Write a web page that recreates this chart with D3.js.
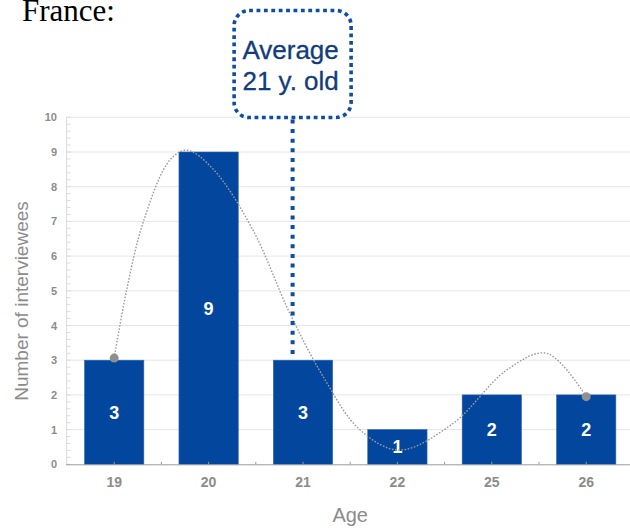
<!DOCTYPE html>
<html>
<head>
<meta charset="utf-8">
<script src="https://cdn.jsdelivr.net/npm/d3@7"></script>
<style>
  html, body { margin: 0; padding: 0; background: #fff; }
  svg { display: block; }
</style>
</head>
<body>
<svg id="chart" width="630" height="532"></svg>
<script>
// Age distribution of interviewees (France)
const ages = ["19", "20", "21", "22", "25", "26"];
const counts = [3, 9, 3, 1, 2, 2];
const yTicks = [0, 1, 2, 3, 4, 5, 6, 7, 8, 9, 10];

// Smoothed trend curve: positions in category units (0 = first age) and values
const trendPos = [0, 0.13, 0.31, 0.59, 0.77, 1.05, 1.47, 1.86, 2.23, 2.6, 3.02, 3.59, 4.16, 4.58, 5];
const trendVal = [3.06, 5.0, 7.0, 8.77, 9.05, 8.5, 6.75, 4.35, 2.45, 1.0, 0.41, 1.18, 2.72, 3.2, 1.95];

// Average marker position (category units) and label
const averagePos = 1.89;
const averageLines = ["Average", "21 y. old"];

const svg = d3.select("#chart");
const plotLeft = 67, plotRight = 633.4, plotTop = 117.3, plotBottom = 464.3;

const x = d3.scaleBand().domain(ages).range([plotLeft, plotRight]).paddingInner(0.372).paddingOuter(0.186);
const xc = d3.scaleLinear().domain([0, ages.length - 1])
  .range([x(ages[0]) + x.bandwidth() / 2, x(ages[ages.length - 1]) + x.bandwidth() / 2]);
const y = d3.scaleLinear().domain([0, 10]).range([plotBottom, plotTop]);

// Title
svg.append("text").attr("x", 22).attr("y", 21)
  .attr("font-family", "Liberation Serif, Times New Roman, serif")
  .attr("font-size", 31).attr("fill", "#000").text("France:");

// Horizontal grid lines
svg.append("g").selectAll("line").data(yTicks.filter(d => d > 0)).join("line")
  .attr("x1", plotLeft).attr("x2", 630)
  .attr("y1", d => y(d)).attr("y2", d => y(d))
  .attr("stroke", "#e6e6e6").attr("stroke-width", 1);

// Left axis line with minor ticks
svg.append("line").attr("x1", plotLeft - 0.5).attr("x2", plotLeft - 0.5)
  .attr("y1", plotTop).attr("y2", plotBottom).attr("stroke", "#dcdcdc");
svg.append("g").selectAll("line").data(d3.range(0, 10.001, 0.2)).join("line")
  .attr("x1", plotLeft - 0.5).attr("x2", plotLeft + 3.5)
  .attr("y1", d => y(d)).attr("y2", d => y(d))
  .attr("stroke", "#dcdcdc");

// Y axis labels
const yAxis = svg.append("g").attr("transform", `translate(${plotLeft},0)`)
  .call(d3.axisLeft(y).tickValues(yTicks).tickSize(0).tickPadding(10));
yAxis.select(".domain").remove();
yAxis.selectAll("text").attr("font-family", "Liberation Sans, Arial, sans-serif")
  .attr("font-size", 11).attr("font-weight", "bold").attr("fill", "#8c8c8c");

// Bars
svg.append("g").selectAll("rect").data(counts).join("rect")
  .attr("x", (d, i) => x(ages[i])).attr("width", x.bandwidth())
  .attr("y", d => y(d)).attr("height", d => y(0) - y(d))
  .attr("fill", "#02479d").attr("stroke", "#2f62b0").attr("stroke-width", 0.6);

// Bar value labels
svg.append("g").selectAll("text").data(counts).join("text")
  .attr("x", (d, i) => x(ages[i]) + x.bandwidth() / 2)
  .attr("y", d => (y(d) + y(0)) / 2 + 6.4)
  .attr("text-anchor", "middle")
  .attr("font-family", "Liberation Sans, Arial, sans-serif")
  .attr("font-size", 18).attr("font-weight", "bold").attr("fill", "#fff")
  .text(d => d);

// X axis
const xAxis = svg.append("g").attr("transform", `translate(0,${plotBottom})`)
  .call(d3.axisBottom(x).tickSize(0).tickPadding(13));
xAxis.select(".domain").attr("stroke", "#9a9a9a").attr("d", `M${plotLeft - 1},0.5H630`);
xAxis.selectAll("text").attr("font-family", "Liberation Sans, Arial, sans-serif")
  .attr("font-size", 14).attr("font-weight", "bold").attr("fill", "#8c8c8c");
// small upward ticks at category centres and band boundaries
const tickXs = [];
ages.forEach((a, i) => {
  tickXs.push(x(a) + x.bandwidth() / 2);
  if (i < ages.length - 1) tickXs.push((x(a) + x.bandwidth() + x(ages[i + 1])) / 2);
});
svg.append("g").selectAll("line").data(tickXs).join("line")
  .attr("x1", d => d).attr("x2", d => d)
  .attr("y1", plotBottom - 2.5).attr("y2", plotBottom)
  .attr("stroke", "#9a9a9a");

// Axis titles
svg.append("text").attr("x", xc(2.5)).attr("y", 522)
  .attr("text-anchor", "middle")
  .attr("font-family", "Liberation Sans, Arial, sans-serif")
  .attr("font-size", 20).attr("fill", "#8c8c8c").text("Age");
svg.append("text").attr("transform", `translate(28,301) rotate(-90)`)
  .attr("text-anchor", "middle")
  .attr("font-family", "Liberation Sans, Arial, sans-serif")
  .attr("font-size", 19).attr("fill", "#8c8c8c").text("Number of interviewees");

// Trend curve
const trend = trendPos.map((p, i) => [p, trendVal[i]]);
svg.append("path").datum(trend)
  .attr("d", d3.line().x(d => xc(d[0])).y(d => y(d[1])).curve(d3.curveCatmullRom.alpha(0.5)))
  .attr("fill", "none").attr("stroke", "#9a9a9a").attr("stroke-width", 1.4)
  .attr("stroke-dasharray", "1.6,1.6");
svg.append("g").selectAll("circle").data([trend[0], trend[trend.length - 1]]).join("circle")
  .attr("cx", d => xc(d[0])).attr("cy", d => y(d[1])).attr("r", 4.5)
  .attr("fill", "#8f8f8f");

// Average callout
const ax = xc(averagePos);
const boxW = 117, boxH = 107, boxTop = 10.5;
svg.append("line").attr("x1", ax).attr("x2", ax)
  .attr("y1", boxTop + boxH + 2).attr("y2", y(3) - 3)
  .attr("stroke", "#0d4ea3").attr("stroke-width", 4).attr("stroke-dasharray", "4,5.6");
svg.append("rect").attr("x", ax - boxW / 2).attr("y", boxTop)
  .attr("width", boxW).attr("height", boxH).attr("rx", 15).attr("ry", 15)
  .attr("fill", "#fff").attr("stroke", "#0d4ea3").attr("stroke-width", 3.6)
  .attr("stroke-dasharray", "3.8,3.6");
svg.append("g").selectAll("text").data(averageLines).join("text")
  .attr("x", ax - 2).attr("y", (d, i) => 58.5 + i * 31)
  .attr("text-anchor", "middle")
  .attr("font-family", "Liberation Sans, Arial, sans-serif")
  .attr("font-size", 26).attr("fill", "#123c7c")
  .attr("stroke", "#123c7c").attr("stroke-width", 0.3)
  .text(d => d);
</script>
</body>
</html>
